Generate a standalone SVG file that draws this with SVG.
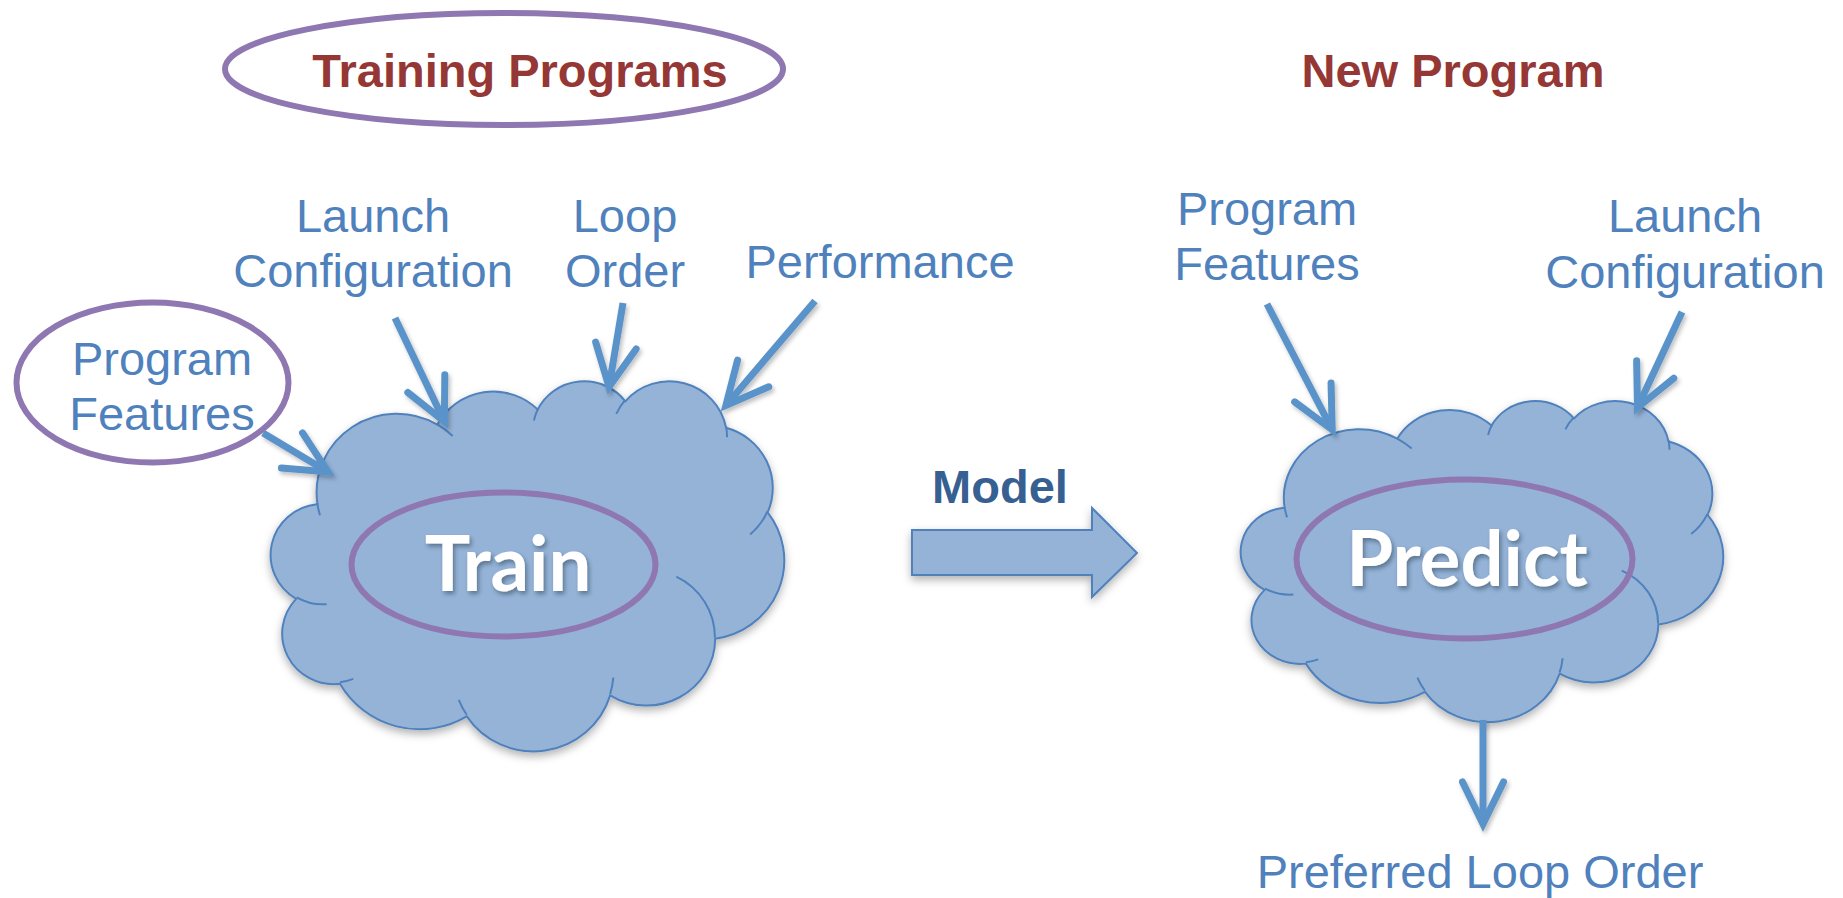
<svg xmlns="http://www.w3.org/2000/svg" xmlns:xlink="http://www.w3.org/1999/xlink" width="1843" height="898" viewBox="0 0 1843 898">
  <style>
    .lbl { font-family: "Liberation Sans", Arial, sans-serif; font-size: 47px; fill: #4F81BD; text-anchor: middle; }
    .title { font-family: "Liberation Sans", Arial, sans-serif; font-size: 47px; font-weight: bold; fill: #953735; text-anchor: middle; }
    .model { font-family: "Liberation Sans", Arial, sans-serif; font-size: 47px; font-weight: bold; fill: #376092; text-anchor: middle; }
    .big { font-family: Lato, "Open Sans", sans-serif; font-size: 76px; font-weight: bold; fill: #FFFFFF; text-anchor: middle; }
    .ring { fill: none; stroke: #8F77B1; stroke-width: 6; }
    .cloud { fill: #95B3D7; stroke: #4F81BD; stroke-width: 2; vector-effect: non-scaling-stroke; }
    .crease { fill: none; stroke: #4F81BD; stroke-width: 2; vector-effect: non-scaling-stroke; }
    .arrow { fill: none; stroke: #5A93C9; stroke-width: 7; stroke-linecap: butt; marker-end: url(#head); }
    .block { fill: #95B3D7; stroke: #4F81BD; stroke-width: 2; }
  </style>
  <defs>
    <filter id="softShadow" x="-10%" y="-10%" width="120%" height="125%">
      <feDropShadow dx="0" dy="4" stdDeviation="4" flood-color="#000" flood-opacity="0.3"/>
    </filter>
    <filter id="lineShadow" x="-20%" y="-20%" width="140%" height="140%">
      <feDropShadow dx="2" dy="3" stdDeviation="2" flood-color="#000" flood-opacity="0.25"/>
    </filter>
    <filter id="textShadow" x="-10%" y="-20%" width="120%" height="140%">
      <feDropShadow dx="2" dy="3" stdDeviation="2" flood-color="#1f2d3d" flood-opacity="0.45"/>
    </filter>
    <marker id="head" markerUnits="userSpaceOnUse" orient="auto" viewBox="-60 -30 70 60" refX="0" refY="0" markerWidth="70" markerHeight="60" overflow="visible">
      <path d="M -42 -20.5 L 0 0 L -42 20.5" fill="none" stroke="#5A93C9" stroke-width="7" stroke-linejoin="miter" stroke-linecap="round"/>
    </marker>
    <!-- cloud outline in a 43200 x 43200 unit box -->
    <path id="cloudShape" class="cloud" d="M 3900 14370 A 6753 9190 0 0 1 14005 5202 A 5333 7267 0 0 1 22460 3438 A 4365 5945 0 0 1 29836 2485 A 4857 6595 0 0 1 38321 5580 A 5333 7273 0 0 1 41821 15464 A 6775 9220 0 0 1 37408 30209 A 5785 7867 0 0 1 28560 36819 A 6752 9215 0 0 1 16485 39271 A 7720 10543 0 0 1 5809 35476 A 4360 5918 0 0 1 2117 25554 A 4345 5945 0 0 1 3867 14510 Z"/>
    <path id="cloudCreases" class="crease" d="M 4693 26177 A 4345 5945 0 0 1 2160 25380 M 6928 34899 A 4360 5918 0 0 1 5820 35281 M 16478 39090 A 6752 9215 0 0 1 15810 37350 M 28827 34751 A 6752 9215 0 0 1 28560 36660 M 34129 22954 A 5785 7867 0 0 1 37380 30090 M 41798 15354 A 5333 7273 0 0 1 40349 18031 M 38324 5426 A 4857 6595 0 0 1 38401 6690 M 29078 3952 A 4857 6595 0 0 1 29820 2339 M 22141 4720 A 4365 5945 0 0 1 22500 3331 M 14000 5192 A 6753 9190 0 0 1 15300 6541 M 4127 15789 A 6753 9190 0 0 1 3900 14370"/>
  </defs>

  <rect width="1843" height="898" fill="#FFFFFF"/>

  <!-- headings -->
  <g id="training-programs">
    <ellipse class="ring" cx="504" cy="69" rx="279" ry="56"/>
    <text class="title" x="520" y="87">Training Programs</text>
  </g>
  <g id="new-program">
    <text class="title" x="1453" y="87">New Program</text>
  </g>

  <!-- training cloud -->
  <g id="train">
    <g filter="url(#softShadow)">
      <use xlink:href="#cloudShape" transform="translate(271,380) scale(0.011875,0.008565)"/>
    </g>
    <use xlink:href="#cloudCreases" transform="translate(271,380) scale(0.011875,0.008565)"/>
    <ellipse class="ring" cx="503.5" cy="564.5" rx="152" ry="72" stroke-width="7"/>
    <text class="big" x="508" y="591" filter="url(#textShadow)">Train</text>
  </g>

  <!-- prediction cloud -->
  <g id="predict">
    <g filter="url(#softShadow)">
      <use xlink:href="#cloudShape" transform="translate(1241,400) scale(0.011157,0.007431)"/>
    </g>
    <use xlink:href="#cloudCreases" transform="translate(1241,400) scale(0.011157,0.007431)"/>
    <ellipse class="ring" cx="1464.5" cy="559" rx="168" ry="79.5" stroke-width="7"/>
    <text class="big" x="1467" y="586" filter="url(#textShadow)">Predict</text>
  </g>

  <!-- input / output labels -->
  <g id="program-features-train">
    <ellipse class="ring" cx="152.5" cy="382.5" rx="136" ry="80"/>
    <text class="lbl" x="162" y="375">Program</text>
    <text class="lbl" x="162" y="430">Features</text>
  </g>
  <g id="launch-config-train">
    <text class="lbl" x="373" y="232">Launch</text>
    <text class="lbl" x="373" y="287">Configuration</text>
  </g>
  <g id="loop-order">
    <text class="lbl" x="625" y="232">Loop</text>
    <text class="lbl" x="625" y="287">Order</text>
  </g>
  <g id="performance">
    <text class="lbl" x="880" y="278">Performance</text>
  </g>
  <g id="program-features-new">
    <text class="lbl" x="1267" y="225">Program</text>
    <text class="lbl" x="1267" y="280">Features</text>
  </g>
  <g id="launch-config-new">
    <text class="lbl" x="1685" y="232">Launch</text>
    <text class="lbl" x="1685" y="288">Configuration</text>
  </g>
  <g id="preferred-loop-order">
    <text class="lbl" x="1480" y="888">Preferred Loop Order</text>
  </g>

  <!-- connectors -->
  <g id="connectors">
    <g filter="url(#lineShadow)">
      <path class="arrow" d="M 263 433 L 328 472"/>
      <path class="arrow" d="M 395 318 L 444.4 421.6"/>
      <path class="arrow" d="M 623 303 L 609 387"/>
      <path class="arrow" d="M 815 301 L 725.9 405.4"/>
      <path class="arrow" d="M 1267 304 L 1332.2 429.7"/>
      <path class="arrow" d="M 1682 312 L 1637.5 407.6"/>
      <path class="arrow" d="M 1483 720 L 1483 824"/>
    </g>
    <g id="model-arrow">
      <path class="block" filter="url(#softShadow)" d="M 912 530 H 1092 V 508 L 1137 553 L 1092 597 V 575 H 912 Z"/>
      <text class="model" x="1000" y="503">Model</text>
    </g>
  </g>
</svg>
